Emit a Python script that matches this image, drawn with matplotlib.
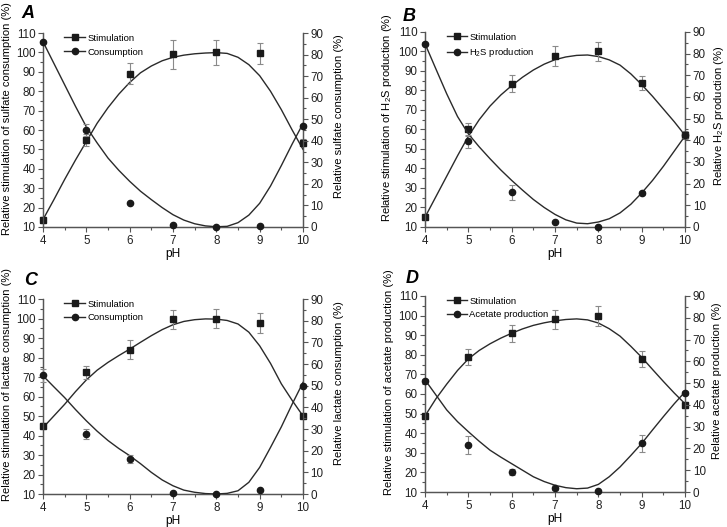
import numpy as np
import matplotlib
matplotlib.use('Agg')
from matplotlib import pyplot as plt
from matplotlib.lines import Line2D
from matplotlib.ticker import MultipleLocator

plt.rcParams['font.family'] = ['Liberation Sans', 'DejaVu Sans']
plt.rcParams['mathtext.fontset'] = 'custom'
plt.rcParams['mathtext.rm'] = 'Liberation Sans'
plt.rcParams['mathtext.it'] = 'Liberation Sans:italic'

PH = [4, 5, 6, 7, 8, 9, 10]
PH_FIT = [4 + 0.25 * i for i in range(25)]

# panel A - sulfate consumption
stim_a = [13.8, 55, 89, 99, 100, 99.5, 53.5]
stim_a_err = [1.5, 3, 5.5, 7.5, 6.5, 5.5, 2]
cons_a = [86, 45, 11, 1, 0, 0.5, 47]
cons_a_err = [0, 3, 0, 0, 0, 0, 1]
stim_a_fit = [13.8, 24, 34.5, 44.5, 54, 63.5, 71.5, 78.5, 84.5, 89.5, 93, 95.7, 97.5,
              98.6, 99.3, 99.7, 99.9, 99.5, 97.5, 93.7, 88, 80, 70.5, 60, 50]
cons_a_fit = [86, 76, 66, 56, 46.5, 39, 32, 26.3, 21.2, 16.6, 12.7, 9, 5.7,
              3.2, 1.5, 0.5, 0.1, 0.3, 2, 5.5, 11, 19, 28.5, 38.5, 48]

# panel B - H2S production
stim_b = [15, 60, 83.5, 97.7, 100, 84, 57]
stim_b_err = [1, 3.5, 4.5, 5, 5, 3.5, 2]
prod_b = [84.6, 39.6, 16, 2.3, 0, 15.7, 42.3]
prod_b_err = [0, 3, 3.5, 0, 0, 1, 1]
stim_b_fit = [15, 25.5, 36, 46.5, 56.5, 65, 72, 77.7, 82.5, 86.8, 90.5, 93.5, 95.8,
              97.2, 98, 98.2, 97.4, 95.7, 93, 88.5, 83, 77, 70.5, 64, 57]
prod_b_fit = [84.6, 73, 61.5, 51, 43, 37, 31.5, 26.3, 21.5, 17, 12.7, 9, 5.8,
              3.3, 1.8, 1.5, 2.3, 3.8, 6.5, 10.5, 15.7, 21.5, 28, 35, 42]

# panel C - lactate consumption
stim_c = [45, 72.4, 84, 99.6, 100, 97.7, 50.2]
stim_c_err = [1.5, 3.5, 5, 5, 5, 5, 1]
cons_c = [54.9, 27.7, 16.2, 0.3, 0, 2, 50]
cons_c_err = [3, 2.5, 2, 0, 0, 0, 0]
stim_c_fit = [44, 50, 56, 62.5, 68.5, 73.5, 77.5, 81, 84.3, 87.8, 91.2, 94.3, 96.8,
              98.5, 99.4, 99.8, 99.7, 99, 97.2, 93, 86, 77, 66.5, 58, 50]
cons_c_fit = [54.6, 49.5, 44.5, 39, 33.8, 29, 24.7, 21, 17.7, 14, 10, 6.5, 3.8,
              1.8, 0.8, 0.2, 0, 0.3, 1.5, 5.4, 12.3, 21.5, 31, 41.5, 51.5]

# panel D - acetate production
stim_d = [48.8, 78.7, 90.9, 98, 99.9, 77.9, 54.4]
stim_d_err = [1.5, 4, 4.5, 5, 5, 4, 1.5]
prod_d = [51, 21.5, 9.2, 2, 0.3, 22.3, 45.4]
prod_d_err = [1, 4, 1.5, 1, 0, 4, 1]
stim_d_fit = [48.8, 57.5, 65, 72, 77.9, 82.2, 85.6, 88.5, 91, 93.2, 95, 96.3, 97.3,
              98, 98.3, 97.8, 96.2, 93.3, 89.5, 84.3, 78.7, 72.5, 66.4, 60.5, 55]
prod_d_fit = [51.5, 44.6, 37.7, 32.3, 27.7, 23.3, 19.2, 16, 13, 10, 7, 4.8, 3.1,
              2, 1.5, 1.8, 3.5, 7, 11.5, 16.8, 22.3, 28.5, 34.6, 40.5, 46]

LINE = '#2a2a2a'
AXC = '#555555'
ERRC = '#8a8a8a'


def style_axis(ax):
    for side in ['left', 'right', 'bottom']:
        ax.spines[side].set_color(AXC)
        ax.spines[side].set_linewidth(0.9)
    ax.spines['top'].set_visible(False)
    ax.tick_params(which='both', direction='out', colors=AXC, labelcolor='#222222',
                   labelsize=8.4, width=0.8, pad=2)
    ax.tick_params(which='major', length=3.5)
    ax.tick_params(which='minor', length=2)


def draw_panel(ax, stim, stim_err, other, other_err, stim_fit, other_fit,
               other_name, left_label, right_label, right_x=1.118):
    ax2 = ax.twinx()
    ax.plot(PH_FIT, stim_fit, color=LINE, lw=1.0, zorder=3)
    ax.errorbar(PH, stim, yerr=stim_err, fmt='s', color='#1a1a1a', ms=4,
                ecolor=ERRC, elinewidth=0.8, capsize=2.5, capthick=0.8, zorder=4,
                clip_on=False)
    ax2.plot(PH_FIT, other_fit, color=LINE, lw=1.0, zorder=3)
    ax2.errorbar(PH, other, yerr=other_err, fmt='o', color='#1a1a1a', ms=4.5,
                 ecolor=ERRC, elinewidth=0.8, capsize=2.5, capthick=0.8, zorder=4,
                 clip_on=False)

    ax.set_xlim(4, 10)
    ax.set_ylim(10, 110)
    ax2.set_ylim(0, 90)
    ax.xaxis.set_major_locator(MultipleLocator(1))
    ax.xaxis.set_minor_locator(MultipleLocator(0.5))
    ax.yaxis.set_major_locator(MultipleLocator(10))
    ax.yaxis.set_minor_locator(MultipleLocator(5))
    ax2.yaxis.set_major_locator(MultipleLocator(10))
    ax2.yaxis.set_minor_locator(MultipleLocator(5))
    style_axis(ax)
    style_axis(ax2)

    ax.set_xlabel('pH', fontsize=8.6, labelpad=1)
    ax.set_ylabel(left_label, fontsize=8.0)
    ax2.set_ylabel(right_label, fontsize=8.0)
    ax.yaxis.set_label_coords(-0.118, 0.56)
    ax2.yaxis.set_label_coords(right_x, 0.57)

    handles = [
        Line2D([], [], color=LINE, lw=1, marker='s', ms=4, mfc='#1a1a1a', mec='#1a1a1a'),
        Line2D([], [], color=LINE, lw=1, marker='o', ms=4.5, mfc='#1a1a1a', mec='#1a1a1a'),
    ]
    ax.legend(handles, ['Stimulation', other_name], loc='upper left',
              bbox_to_anchor=(0.05, 1.04), frameon=False, fontsize=6.8,
              handlelength=2.2, handletextpad=0.2, labelspacing=0.5)
    return ax2


fig = plt.figure(figsize=(7.27, 5.27), dpi=100)

ax_a = fig.add_axes([0.0591, 0.5693, 0.3577, 0.368])
ax_b = fig.add_axes([0.5846, 0.5693, 0.3577, 0.370])
ax_c = fig.add_axes([0.0591, 0.0626, 0.3577, 0.370])
ax_d = fig.add_axes([0.5846, 0.0664, 0.3577, 0.372])

draw_panel(ax_a, stim_a, stim_a_err, cons_a, cons_a_err, stim_a_fit, cons_a_fit,
           'Consumption', 'Relative stimulation of sulfate consumption (%)',
           'Relative sulfate consumption (%)')
draw_panel(ax_b, stim_b, stim_b_err, prod_b, prod_b_err, stim_b_fit, prod_b_fit,
           'H$_2$S production', 'Relative stimulation of H$_2$S production (%)',
           'Relative H$_2$S production (%)', right_x=1.105)
draw_panel(ax_c, stim_c, stim_c_err, cons_c, cons_c_err, stim_c_fit, cons_c_fit,
           'Consumption', 'Relative stimulation of lactate consumption (%)',
           'Relative lactate consumption (%)')
draw_panel(ax_d, stim_d, stim_d_err, prod_d, prod_d_err, stim_d_fit, prod_d_fit,
           'Acetate production', 'Relative stimulation of acetate production (%)',
           'Relative acetate production (%)', right_x=1.105)

for letter, x, y in [('A', 0.030, 0.990), ('B', 0.554, 0.985),
                     ('C', 0.033, 0.484), ('D', 0.558, 0.488)]:
    fig.text(x, y, letter, fontsize=13, fontweight='bold', fontstyle='italic',
             ha='left', va='top')

fig.savefig('out.png', dpi=100)
